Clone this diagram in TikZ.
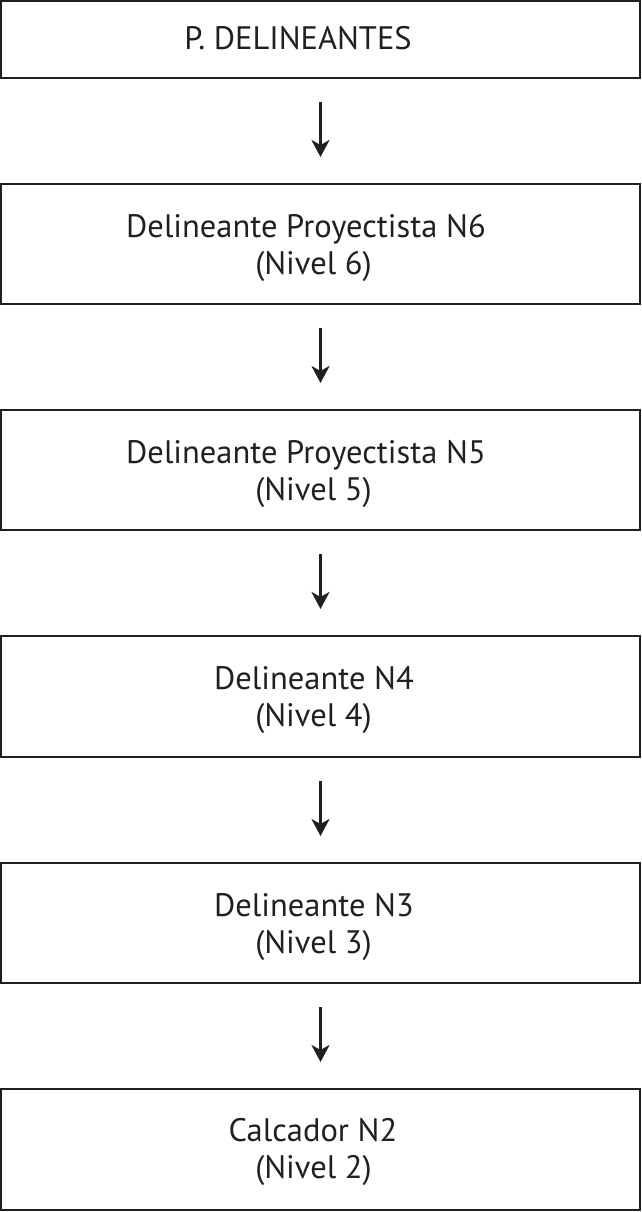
\documentclass[tikz,border=0pt]{standalone}
\usepackage{fontspec}
\setmainfont{PT Sans}
\usetikzlibrary{arrows.meta}
\definecolor{ink}{HTML}{231F20}
\begin{document}
\begin{tikzpicture}[x=1pt,y=-1pt,
  box/.style={draw=ink,line width=2pt,minimum width=639pt,inner sep=0pt},
  lbl/.style={anchor=base,inner sep=0pt,font=\fontsize{32.5}{36.5}\selectfont,text=ink},
  conn/.style={draw=ink,line width=3pt,-{Stealth[length=17pt,width=18pt,inset=5pt]}}]
\useasboundingbox (0,0) rectangle (642,1212);
\node[box,minimum height=77pt] (b1) at (320.5,39.5) {};
\node[box,minimum height=120pt] (b2) at (320.5,244) {};
\node[box,minimum height=120pt] (b3) at (320.5,470) {};
\node[box,minimum height=121pt] (b4) at (320.5,696.5) {};
\node[box,minimum height=120pt] (b5) at (320.5,923) {};
\node[box,minimum height=121pt] (b6) at (320.5,1149.5) {};
\node[lbl] (t1) at (298,50) {P. DELINEANTES};
\node[lbl] (t2a) at (306,237) {Delineante Proyectista N6};
\node[lbl] (t2b) at (313.5,274) {(Nivel 6)};
\node[lbl] (t3a) at (306,463.5) {Delineante Proyectista N5};
\node[lbl] (t3b) at (313.5,500.5) {(Nivel 5)};
\node[lbl] (t4a) at (314,689.5) {Delineante N4};
\node[lbl] (t4b) at (313.5,726.5) {(Nivel 4)};
\node[lbl] (t5a) at (314,916.5) {Delineante N3};
\node[lbl] (t5b) at (313.5,953.5) {(Nivel 3)};
\node[lbl] (t6a) at (313,1141.5) {Calcador N2};
\node[lbl] (t6b) at (313.5,1178.5) {(Nivel 2)};
\foreach \a/\b in {b1/b2,b2/b3,b3/b4,b4/b5,b5/b6}{
  \draw[conn] ([yshift=-23pt]\a.south) -- ([yshift=26pt]\b.north);
}
\end{tikzpicture}
\end{document}
